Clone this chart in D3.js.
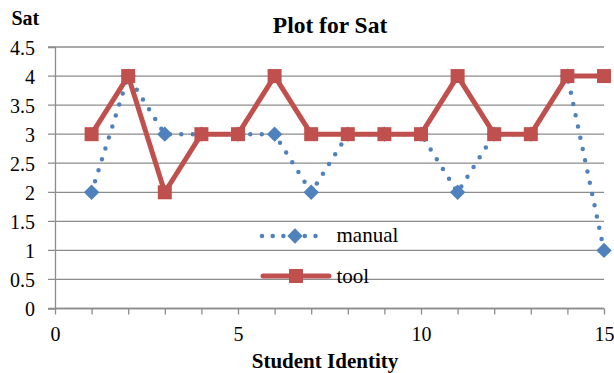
<!DOCTYPE html>
<html>
<head>
<meta charset="utf-8">
<script src="https://cdn.jsdelivr.net/npm/d3@7"></script>
<style>
  html, body { margin: 0; padding: 0; background: #fff; }
  svg { display: block; }
</style>
</head>
<body>
<svg id="chart" width="614" height="373"></svg>
<script>
// Student identities and ratings
const students = [1, 2, 3, 4, 5, 6, 7, 8, 9, 10, 11, 12, 13, 14, 15];
const manual = [2, 4, 3, 3, 3, 3, 2, 3, 3, 3, 2, 3, 3, 4, 1];
const tool   = [3, 4, 2, 3, 3, 4, 3, 3, 3, 3, 4, 3, 3, 4, 4];
const xTicks = [0, 5, 10, 15];
const yTicks = [0, 0.5, 1, 1.5, 2, 2.5, 3, 3.5, 4, 4.5];

const blue = "#4F81BD", red = "#C0504D", grid = "#8c8c8c";
const serif = "'Liberation Serif', 'Times New Roman', serif";

const svg = d3.select("#chart");
const x = d3.scaleLinear().domain([0, 15]).range([55, 604]);
const y = d3.scaleLinear().domain([0, 4.5]).range([308.5, 47]);

// horizontal gridlines with short outer ticks on the left
svg.append("g").selectAll("line").data(yTicks).join("line")
  .attr("x1", x(0) - 7).attr("x2", x(15))
  .attr("y1", d => y(d)).attr("y2", d => y(d))
  .attr("stroke", grid).attr("stroke-width", 1.3);

// y axis
const yAxis = svg.append("g").attr("transform", `translate(${x(0)},0)`)
  .call(d3.axisLeft(y).tickValues(yTicks).tickSize(7).tickPadding(13)
        .tickFormat(d => String(d)));
yAxis.select(".domain").attr("stroke", grid).attr("stroke-width", 1.3);
yAxis.selectAll(".tick line").attr("stroke", "none");
yAxis.selectAll("text").attr("font-size", 20).attr("dy", "0.36em");

// x axis: minor ticks every unit, labels every 5
const xAxis = svg.append("g").attr("transform", `translate(0,${y(0)})`)
  .call(d3.axisBottom(x).tickValues(d3.range(0, 16)).tickSize(6).tickPadding(19)
        .tickFormat(d => xTicks.includes(d) ? String(d) : ""));
xAxis.select(".domain").attr("stroke", grid).attr("stroke-width", 1.3).attr("d", `M${x(0)},0H${x(15)}`);
xAxis.selectAll(".tick line").attr("stroke", grid).attr("stroke-width", 1.3);
xAxis.selectAll("text").attr("font-size", 20).attr("dy", "0.36em");

// titles
svg.append("text").attr("x", 330).attr("y", 33).attr("text-anchor", "middle")
  .attr("font-size", 23.5).attr("font-weight", "bold").text("Plot for Sat");
svg.append("text").attr("x", 11.5).attr("y", 25)
  .attr("font-size", 20).attr("font-weight", "bold").text("Sat");
svg.append("text").attr("x", 325).attr("y", 367.5).attr("text-anchor", "middle")
  .attr("font-size", 21).attr("font-weight", "bold").text("Student Identity");

const manualPts = students.map((s, i) => [s, manual[i]]);
const toolPts = students.map((s, i) => [s, tool[i]]);
const line = d3.line().x(d => x(d[0])).y(d => y(d[1]));

// manual: round-dotted line with diamond markers
svg.append("path").attr("d", line(manualPts)).attr("fill", "none")
  .attr("stroke", blue).attr("stroke-width", 4.5)
  .attr("stroke-dasharray", "0,11.5").attr("stroke-linecap", "round");
const diamond = d3.symbol().type(d3.symbolDiamond2).size(150);
svg.append("g").selectAll("path").data(manualPts).join("path")
  .attr("transform", d => `translate(${x(d[0])},${y(d[1])})`)
  .attr("d", diamond).attr("fill", blue);

// tool: solid line with square markers
svg.append("path").attr("d", line(toolPts)).attr("fill", "none")
  .attr("stroke", red).attr("stroke-width", 5).attr("stroke-linejoin", "round");
svg.append("g").selectAll("rect").data(toolPts).join("rect")
  .attr("x", d => x(d[0]) - 7).attr("y", d => y(d[1]) - 7)
  .attr("width", 14).attr("height", 14).attr("fill", red);

// legend
const lg = svg.append("g");
lg.append("line").attr("x1", 262).attr("x2", 326).attr("y1", 236).attr("y2", 236)
  .attr("stroke", blue).attr("stroke-width", 4.5)
  .attr("stroke-dasharray", "0,10.7").attr("stroke-linecap", "round");
lg.append("path").attr("transform", "translate(295,236)").attr("d", diamond).attr("fill", blue);
lg.append("text").attr("x", 336.5).attr("y", 242).attr("font-size", 21).text("manual");
lg.append("line").attr("x1", 263).attr("x2", 329).attr("y1", 276).attr("y2", 276)
  .attr("stroke", red).attr("stroke-width", 5).attr("stroke-linecap", "round");
lg.append("rect").attr("x", 289).attr("y", 269).attr("width", 14).attr("height", 14).attr("fill", red);
lg.append("text").attr("x", 336.5).attr("y", 283).attr("font-size", 21).text("tool");

// every label in the serif face, black
svg.selectAll("text").style("font-family", serif).style("fill", "#000");
</script>
</body>
</html>
